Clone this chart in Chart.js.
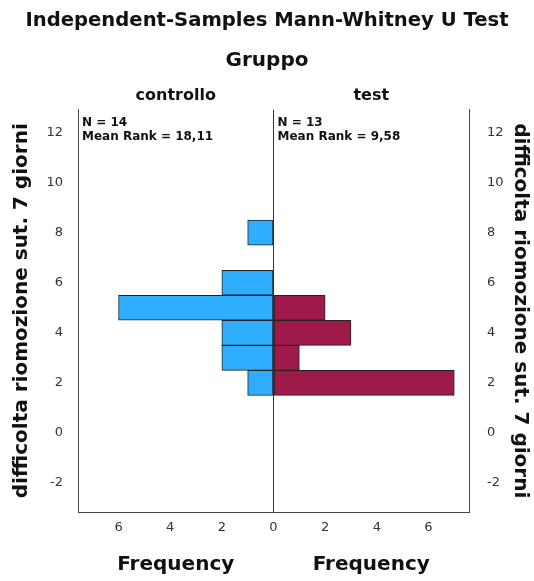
<!DOCTYPE html>
<html>
<head>
<meta charset="utf-8">
<script src="https://cdn.jsdelivr.net/npm/chart.js@4.4.1/dist/chart.umd.min.js"></script>
<style>
  html, body { margin: 0; padding: 0; background: #fff; }
  #wrap { position: relative; width: 534px; height: 581px; }
</style>
</head>
<body>
<div id="wrap"><canvas id="mwChart" width="534" height="581"></canvas></div>
<script>
// histogram bins (difficolta value) and counts for each group
const bins = [2, 3, 4, 5, 6, 7, 8];
const controlloCounts = [1, 2, 2, 6, 2, 0, 1];
const testCounts = [7, 1, 3, 2, 0, 0, 0];

const groups = ['controllo', 'test'];
const groupN = [14, 13];
const meanRanks = ['18,11', '9,58'];

const yTicks = [-2, 0, 2, 4, 6, 8, 10, 12];
const xTicks = [-6, -4, -2, 0, 2, 4, 6];

const FONT = 'DejaVu Sans';
const INK = '#222';

// controllo goes to the left (negative), test to the right
function toPoints(counts, sign) {
  return bins.map((b, i) => ({ x: counts[i] ? sign * counts[i] : null, y: b }));
}

// Draws group headers, N / Mean Rank notes and the two "Frequency" labels
const panelLabels = {
  id: 'panelLabels',
  afterDraw(chart) {
    const { ctx, chartArea } = chart;
    const x0 = chart.scales.x.getPixelForValue(0);
    const centers = [(chartArea.left + x0) / 2, (x0 + chartArea.right) / 2];
    const starts = [chartArea.left + 4, x0 + 4];

    ctx.save();
    ctx.fillStyle = '#111';
    ctx.textAlign = 'center';
    ctx.textBaseline = 'middle';

    ctx.font = 'bold 16px "' + FONT + '"';
    groups.forEach((g, i) => ctx.fillText(g, centers[i], chartArea.top - 14));

    ctx.font = 'bold 20px "' + FONT + '"';
    centers.forEach(c => ctx.fillText('Frequency', c, chartArea.bottom + 53));

    ctx.textAlign = 'left';
    ctx.font = 'bold 12px "' + FONT + '"';
    groups.forEach((g, i) => {
      ctx.fillText('N = ' + groupN[i], starts[i], chartArea.top + 13);
      ctx.fillText('Mean Rank = ' + meanRanks[i], starts[i], chartArea.top + 27);
    });
    ctx.restore();
  }
};

const yTitle = 'difficolta riomozione sut. 7 giorni';

function yAxis(position, width, tickPad, titlePad) {
  return {
    type: 'linear',
    position: position,
    min: -3.16,
    max: 12.92,
    offset: false,
    afterBuildTicks: s => { s.ticks = yTicks.map(v => ({ value: v })); },
    afterFit: s => { s.width = width; },
    ticks: { color: '#333', font: { family: FONT, size: 13 }, padding: tickPad },
    grid: { display: false, drawTicks: false, offset: false },
    border: { display: true, color: '#444', width: 1 },
    title: {
      display: true,
      text: yTitle,
      color: '#111',
      font: { family: FONT, size: 20, weight: 'bold' },
      padding: { top: titlePad, bottom: 0 }
    }
  };
}

new Chart(document.getElementById('mwChart'), {
  type: 'bar',
  data: {
    datasets: [
      {
        label: groups[0],
        data: toPoints(controlloCounts, -1),
        backgroundColor: '#2FADFE',
        borderColor: INK,
        borderWidth: 1,
        borderSkipped: false,
        grouped: false,
        barPercentage: 1,
        categoryPercentage: 1
      },
      {
        label: groups[1],
        data: toPoints(testCounts, 1),
        backgroundColor: '#A0194B',
        borderColor: INK,
        borderWidth: 1,
        borderSkipped: false,
        grouped: false,
        barPercentage: 1,
        categoryPercentage: 1
      }
    ]
  },
  options: {
    responsive: false,
    animation: false,
    indexAxis: 'y',
    layout: { padding: 0 },
    plugins: {
      legend: { display: false },
      tooltip: { enabled: false },
      title: {
        display: true,
        text: 'Independent-Samples Mann-Whitney U Test',
        color: '#111',
        font: { family: FONT, size: 19.6, weight: 'bold' },
        padding: { top: 9, bottom: 4 }
      },
      subtitle: {
        display: true,
        text: 'Gruppo',
        color: '#111',
        font: { family: FONT, size: 20, weight: 'bold' },
        padding: { top: 12, bottom: 37 }
      }
    },
    scales: {
      x: {
        type: 'linear',
        min: -7.57,
        max: 7.57,
        afterBuildTicks: s => { s.ticks = xTicks.map(v => ({ value: v })); },
        afterFit: s => { s.height = 69; },
        ticks: {
          callback: v => Math.abs(v),
          color: '#333',
          font: { family: FONT, size: 13 },
          padding: 8,
          maxRotation: 0
        },
        grid: {
          drawTicks: false,
          lineWidth: 1,
          color: c => (c.tick && c.tick.value === 0 ? '#333' : 'rgba(0,0,0,0)')
        },
        border: { display: true, color: '#444', width: 1 }
      },
      y: yAxis('left', 78, 15, 10),
      y2: yAxis('right', 65, 18, 2)
    }
  },
  plugins: [panelLabels]
});
</script>
</body>
</html>
